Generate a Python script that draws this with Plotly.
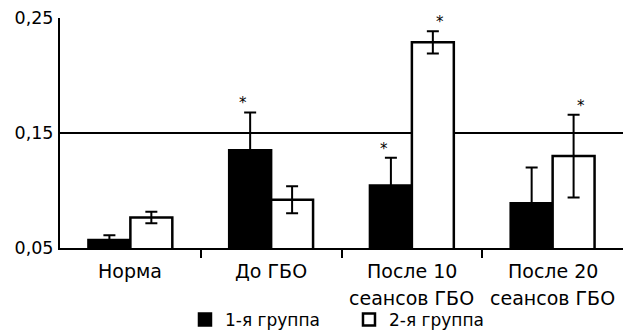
import plotly.graph_objects as go

categories = ["Норма", "До ГБО", "После 10<br>сеансов ГБО", "После 20<br>сеансов ГБО"]
group1 = [0.057, 0.135, 0.1045, 0.089]
group1_err = [0.004, 0.033, 0.024, 0.031]
group2 = [0.0765, 0.092, 0.229, 0.130]
group2_err = [0.005, 0.0118, 0.0096, 0.036]
star1 = [False, True, True, False]
star2 = [False, False, True, True]
series_names = ["1-я группа", "2-я группа"]
y_ticks = [0.05, 0.15, 0.25]

FONT = "DejaVu Sans"
xs = list(range(len(categories)))

fig = go.Figure()
fig.add_trace(go.Bar(
    x=xs, y=group1, name=series_names[0],
    marker=dict(color="black", line=dict(color="black", width=2.5)),
    error_y=dict(type="data", array=group1_err, visible=True, color="black", thickness=2, width=6),
))
fig.add_trace(go.Bar(
    x=xs, y=group2, name=series_names[1],
    marker=dict(color="white", line=dict(color="black", width=2.5)),
    error_y=dict(type="data", array=group2_err, visible=True, color="black", thickness=2, width=6),
))

annotations = []
for i, lab in enumerate(categories):
    lines = lab.split("<br>")
    for j, ln in enumerate(lines):
        annotations.append(dict(
            x=i, xref="x", y=0, yref="paper", yanchor="top",
            yshift=-10 - 27 * j, text=ln, showarrow=False,
            font=dict(family=FONT, size=19, color="black"),
        ))
off = 0.2
for i in xs:
    if star1[i]:
        annotations.append(dict(x=i - off, y=group1[i] + group1_err[i], xref="x", yref="y",
                                yanchor="bottom", text="*", showarrow=False, yshift=-2,
                                font=dict(family=FONT, size=15, color="black")))
    if star2[i]:
        annotations.append(dict(x=i + off, y=group2[i] + group2_err[i], xref="x", yref="y",
                                yanchor="bottom", text="*", showarrow=False, yshift=-2,
                                font=dict(family=FONT, size=15, color="black")))

fig.update_layout(
    width=623, height=333,
    margin=dict(l=60, r=0, t=18, b=85, autoexpand=False),
    paper_bgcolor="white", plot_bgcolor="white",
    barmode="group", bargap=0.404, bargroupgap=0,
    separators=", ",
    font=dict(family=FONT, size=17.5, color="black"),
    showlegend=True,
    legend=dict(orientation="h", x=0.222, xanchor="left", yref="container", y=0.039,
                yanchor="middle",
                font=dict(family=FONT, size=17, color="black"), itemwidth=30,
                entrywidth=119, entrywidthmode="pixels",
                traceorder="normal"),
    annotations=annotations,
    xaxis=dict(range=[-0.5, len(categories) - 0.5], tickvals=[0.5, 1.5, 2.5],
               ticktext=["", "", ""], ticks="outside", ticklen=8, tickwidth=2,
               tickcolor="black", showline=True, linecolor="black", linewidth=2,
               showgrid=False, zeroline=False),
    yaxis=dict(range=[0.05, 0.2502], tickvals=y_ticks, tickformat=".2f",
               showgrid=True, gridcolor="black", gridwidth=2,
               showline=True, linecolor="black", linewidth=2,
               ticks="", ticklabelstandoff=1, zeroline=False,
               tickfont=dict(family=FONT, size=17.5, color="black")),
)

fig.write_html("out.html")
